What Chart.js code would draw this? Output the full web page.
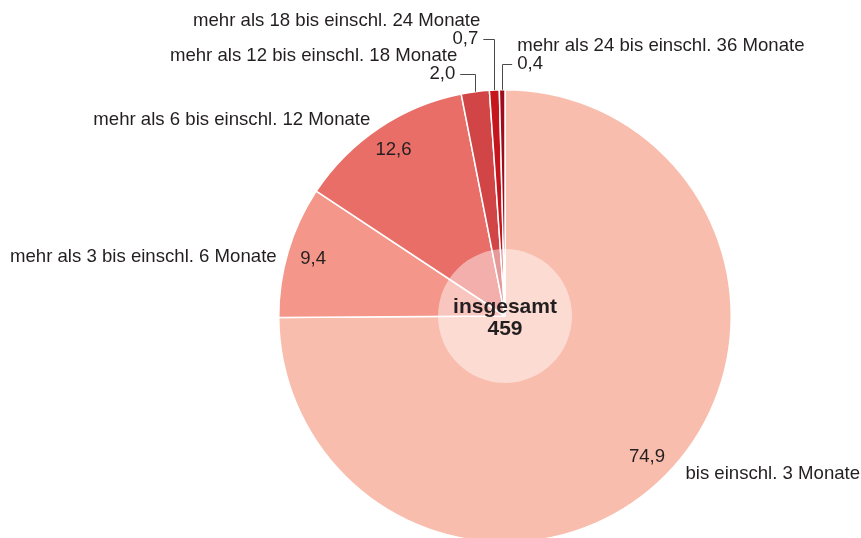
<!DOCTYPE html>
<html lang="de">
<head>
    <meta charset="UTF-8">
    <title>Dauer</title>
    <script src="https://cdn.jsdelivr.net/npm/chart.js"></script>
    <style>
        body {
            margin: 0;
            background: white;
            overflow: hidden;
        }
        #wrap {
            width: 861px;
            height: 560px; /* a bit taller than the window: the pie is cut at the bottom */
        }
    </style>
</head>
<body>
    <div id="wrap">
        <canvas id="pieChart" width="861" height="560"></canvas>
    </div>
    <script>
        const categories = [
            'bis einschl. 3 Monate',
            'mehr als 3 bis einschl. 6 Monate',
            'mehr als 6 bis einschl. 12 Monate',
            'mehr als 12 bis einschl. 18 Monate',
            'mehr als 18 bis einschl. 24 Monate',
            'mehr als 24 bis einschl. 36 Monate'
        ];
        const shares = [74.9, 9.4, 12.6, 2.0, 0.7, 0.4];
        const totalLabel = 'insgesamt';
        const totalValue = 459;
        const sliceColors = ['#f9bdad', '#f4978a', '#e86e67', '#d24546', '#c5161d', '#9e0c1e'];

        const FONT = '"Liberation Sans", Arial, Helvetica, sans-serif';
        const TEXT = '#231f20';

        // how each slice gets labelled (offsets in px)
        const labelLayout = [
            { mode: 'outside', gap: 14, dx: 10, dy: -11, align: 'left' },
            { mode: 'outside', gap: 12, dx: 0, dy: 9, align: 'right' },
            { mode: 'outside', gap: 12, dx: -2, dy: 2, align: 'right' },
            { mode: 'leader', rise: 16, dir: -1, len: 15 },
            { mode: 'leader', rise: 51, dir: -1, len: 11 },
            { mode: 'leader', rise: 26, dir: 1, len: 10 }
        ];

        function fmt(v) {
            return v.toFixed(1).replace('.', ',');
        }

        const labelPlugin = {
            id: 'sliceLabels',
            afterDatasetsDraw(chart) {
                const ctx = chart.ctx;
                const arcs = chart.getDatasetMeta(0).data;
                const cx = arcs[0].x;
                const cy = arcs[0].y;
                const r = arcs[0].outerRadius;

                ctx.save();
                // translucent disc in the middle
                ctx.beginPath();
                ctx.arc(cx, cy, r * 0.296, 0, Math.PI * 2);
                ctx.fillStyle = 'rgba(255,255,255,0.45)';
                ctx.fill();

                ctx.fillStyle = TEXT;
                ctx.textAlign = 'center';
                ctx.textBaseline = 'middle';
                ctx.font = 'bold 21px ' + FONT;
                ctx.fillText(totalLabel, cx, cy - 9);
                ctx.fillText(String(totalValue), cx, cy + 13);

                ctx.font = '18.6px ' + FONT;
                arcs.forEach((arc, i) => {
                    const mid = (arc.startAngle + arc.endAngle) / 2;
                    const cos = Math.cos(mid), sin = Math.sin(mid);
                    const lay = labelLayout[i];
                    if (lay.mode === 'outside') {
                        ctx.textAlign = 'center';
                        ctx.fillText(fmt(shares[i]), cx + cos * r * 0.885, cy + sin * r * 0.885);
                        const R = r + lay.gap;
                        ctx.textAlign = lay.align;
                        ctx.fillText(categories[i], cx + cos * R + lay.dx, cy + sin * R + lay.dy);
                    } else {
                        const x0 = cx + cos * r;
                        const y0 = cy + sin * r;
                        const yE = cy - r - lay.rise;
                        const x1 = x0 + lay.dir * lay.len;
                        ctx.beginPath();
                        ctx.moveTo(Math.round(x0) + 0.5, y0);
                        ctx.lineTo(Math.round(x0) + 0.5, Math.round(yE) + 0.5);
                        ctx.lineTo(x1, Math.round(yE) + 0.5);
                        ctx.strokeStyle = '#4a4a4a';
                        ctx.lineWidth = 1;
                        ctx.stroke();
                        const tx = x1 + lay.dir * 5;
                        ctx.textAlign = lay.dir < 0 ? 'right' : 'left';
                        ctx.fillText(fmt(shares[i]), tx, yE);
                        ctx.fillText(categories[i], tx + (lay.dir < 0 ? 2 : 0), yE - 17.5);
                    }
                });
                ctx.restore();
            }
        };

        const ctx = document.getElementById('pieChart').getContext('2d');
        const chart = new Chart(ctx, {
            type: 'pie',
            data: {
                labels: categories,
                datasets: [{
                    data: shares,
                    backgroundColor: sliceColors,
                    borderColor: '#ffffff',
                    borderWidth: 1.5
                }]
            },
            options: {
                responsive: false,
                animation: false,
                layout: {
                    padding: { top: 89, bottom: 17, left: 278, right: 129 }
                },
                plugins: {
                    legend: { display: false },
                    tooltip: { enabled: false }
                }
            },
            plugins: [labelPlugin]
        });
    </script>
</body>
</html>
